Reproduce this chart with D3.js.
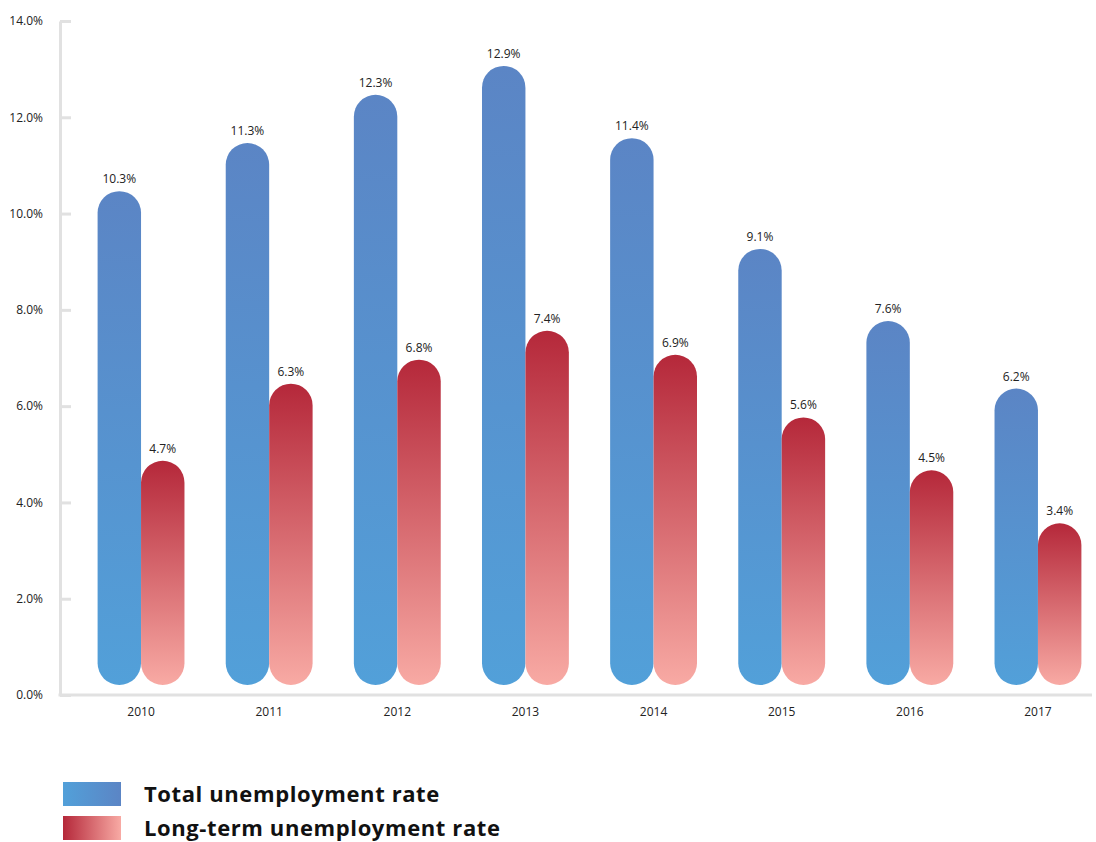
<!DOCTYPE html>
<html>
<head>
<meta charset="utf-8">
<script src="https://cdn.jsdelivr.net/npm/d3@7"></script>
<style>
  html, body { margin: 0; padding: 0; background: #fff; }
  svg { display: block; }
  text { font-family: "Open Sans", "Lato", sans-serif; }
</style>
</head>
<body>
<svg id="chart" width="1096" height="842"></svg>
<script>
// ---- data ----
const years = ["2010", "2011", "2012", "2013", "2014", "2015", "2016", "2017"];
const totalRate = [10.3, 11.3, 12.3, 12.9, 11.4, 9.1, 7.6, 6.2];
const longTermRate = [4.7, 6.3, 6.8, 7.4, 6.9, 5.6, 4.5, 3.4];
const yTicks = [0, 2, 4, 6, 8, 10, 12, 14];
const seriesKeys = ["total", "longTerm"];
const seriesNames = ["Total unemployment rate", "Long-term unemployment rate"];

// ---- layout ----
const svg = d3.select("#chart");
const axisX = 60, axisRight = 1092;
const y = d3.scaleLinear().domain([0, 14]).range([695, 21]);
const x = d3.scaleBand().domain(years).range([97.6, 1081.4]).paddingInner(0.322).paddingOuter(0);
const xs = d3.scaleBand().domain(seriesKeys).range([0, x.bandwidth()]).padding(0);

const rows = years.map((yr, i) => ({ year: yr, total: totalRate[i], longTerm: longTermRate[i] }));

// ---- gradients ----
const defs = svg.append("defs");
function vGrad(id, top, bottom) {
  const g = defs.append("linearGradient").attr("id", id)
    .attr("x1", 0).attr("y1", 0).attr("x2", 0).attr("y2", 1);
  g.append("stop").attr("offset", "0%").attr("stop-color", top);
  g.append("stop").attr("offset", "100%").attr("stop-color", bottom);
}
function hGrad(id, left, right) {
  const g = defs.append("linearGradient").attr("id", id)
    .attr("x1", 0).attr("y1", 0).attr("x2", 1).attr("y2", 0);
  g.append("stop").attr("offset", "0%").attr("stop-color", left);
  g.append("stop").attr("offset", "100%").attr("stop-color", right);
}
vGrad("gTotal", "#5b85c5", "#52a0d9");
vGrad("gLong", "#b5283a", "#f8aaa4");
hGrad("lgTotal", "#52a0d9", "#5b85c5");
hGrad("lgLong", "#b5283a", "#f8aaa4");
const fills = { total: "url(#gTotal)", longTerm: "url(#gLong)" };
const legendFills = ["url(#lgTotal)", "url(#lgLong)"];

// ---- axes ----
const gridColor = "#e1e1e1";
const yAxis = svg.append("g")
  .attr("transform", `translate(${axisX},0)`)
  .call(d3.axisLeft(y).tickValues(yTicks).tickFormat(d => d.toFixed(1) + "%")
    .tickSizeInner(-11).tickSizeOuter(0).tickPadding(17));
yAxis.select(".domain").attr("stroke", gridColor).attr("stroke-width", 3);
yAxis.selectAll(".tick line").attr("stroke", gridColor).attr("stroke-width", 3);
yAxis.selectAll(".tick text").attr("font-size", 12).attr("fill", "#222")
  .attr("font-family", "'Open Sans', Lato, sans-serif");

svg.append("line")
  .attr("x1", axisX - 1.5).attr("x2", axisRight)
  .attr("y1", y(0)).attr("y2", y(0))
  .attr("stroke", gridColor).attr("stroke-width", 3);

const xAxis = svg.append("g")
  .attr("transform", `translate(0,${y(0) + 12})`)
  .call(d3.axisBottom(x).tickSize(0).tickPadding(0));
xAxis.select(".domain").remove();
xAxis.selectAll(".tick text").attr("font-size", 12).attr("fill", "#222")
  .attr("dy", "0.71em").attr("font-family", "'Open Sans', Lato, sans-serif");

// ---- bars ----
const lift = 8, baseGap = 10;
const groups = svg.append("g").selectAll("g").data(rows).join("g")
  .attr("transform", d => `translate(${x(d.year)},0)`);

groups.selectAll("rect").data(d => seriesKeys.map(k => ({ key: k, value: d[k] }))).join("rect")
  .attr("x", d => xs(d.key))
  .attr("width", xs.bandwidth())
  .attr("y", d => y(d.value) - lift)
  .attr("height", d => (y(0) - baseGap) - (y(d.value) - lift))
  .attr("rx", xs.bandwidth() / 2)
  .attr("ry", xs.bandwidth() / 2)
  .attr("fill", d => fills[d.key]);

groups.selectAll("text.val").data(d => seriesKeys.map(k => ({ key: k, value: d[k] }))).join("text")
  .attr("class", "val")
  .attr("x", d => xs(d.key) + xs.bandwidth() / 2)
  .attr("y", d => y(d.value) - lift - 8)
  .attr("text-anchor", "middle")
  .attr("font-size", 12)
  .attr("fill", "#222")
  .text(d => d.value.toFixed(1) + "%");

// ---- legend ----
const legend = svg.append("g").attr("transform", "translate(63,782)");
const li = legend.selectAll("g").data(seriesNames).join("g")
  .attr("transform", (d, i) => `translate(0,${i * 34})`);
li.append("rect").attr("width", 58).attr("height", 24).attr("fill", (d, i) => legendFills[i]);
li.append("text").attr("x", 81).attr("y", 19.5)
  .attr("font-size", 22).attr("font-weight", 700).attr("fill", "#111")
  .attr("letter-spacing", 0.6)
  .attr("font-family", "Lato, 'Open Sans', sans-serif")
  .text(d => d);
</script>
</body>
</html>
